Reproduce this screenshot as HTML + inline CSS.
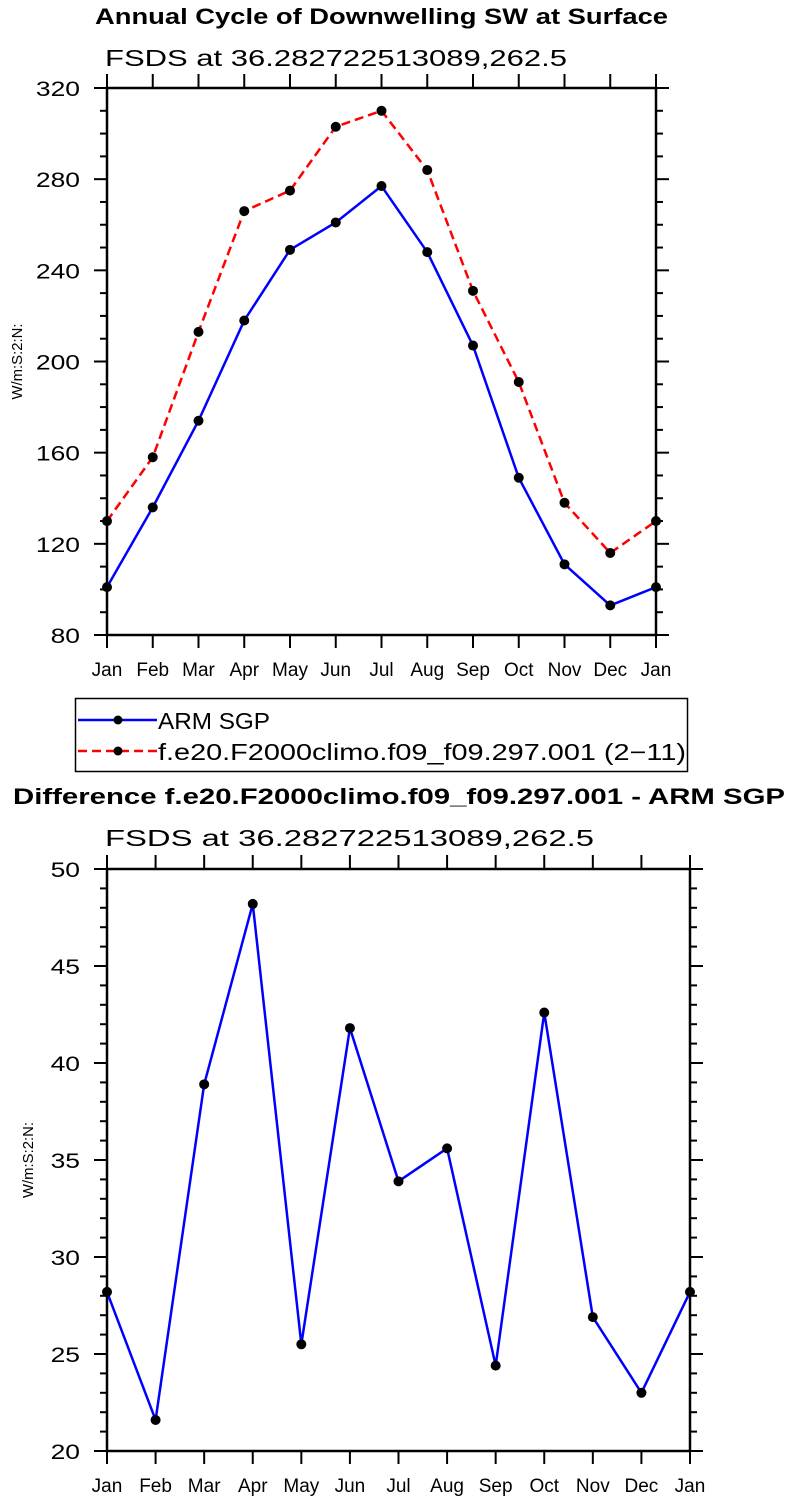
<!DOCTYPE html>
<html><head><meta charset="utf-8">
<style>
html,body{margin:0;padding:0;background:#fff;}
svg{display:block;font-family:"Liberation Sans",sans-serif;}
</style></head>
<body>
<svg id="svg" width="787" height="1506" viewBox="0 0 787 1506" xmlns="http://www.w3.org/2000/svg">
<text x="95" y="24" textLength="573" lengthAdjust="spacingAndGlyphs" font-size="22" font-weight="bold">Annual Cycle of Downwelling SW at Surface</text>
<text x="105" y="66" textLength="462" lengthAdjust="spacingAndGlyphs" font-size="23">FSDS at 36.282722513089,262.5</text>
<text x="13" y="804" textLength="772" lengthAdjust="spacingAndGlyphs" font-size="22" font-weight="bold">Difference f.e20.F2000climo.f09_f09.297.001 - ARM SGP</text>
<text x="105" y="846" textLength="489" lengthAdjust="spacingAndGlyphs" font-size="23">FSDS at 36.282722513089,262.5</text>
<g>
<rect x="75.5" y="698.5" width="612" height="73" fill="none" stroke="#000" stroke-width="1.5"/>
<g>
<line x1="78" y1="720" x2="157" y2="720" stroke="#0000ff" stroke-width="2.5"/>
<circle cx="118" cy="720" r="4.5"/>
<text x="158" y="729" textLength="112" lengthAdjust="spacingAndGlyphs" font-size="23">ARM SGP</text></g>
<g>
<line x1="78" y1="751" x2="157" y2="751" stroke="#ff0000" stroke-width="2.5" stroke-dasharray="9,5"/>
<circle cx="118" cy="751" r="4.5"/>
<text x="158" y="760" textLength="528" lengthAdjust="spacingAndGlyphs" font-size="23">f.e20.F2000climo.f09_f09.297.001 (2−11)</text></g>
</g>
<g id="top"></g>
<g id="bot"></g>
</svg>
<script>
const months = ["Jan","Feb","Mar","Apr","May","Jun","Jul","Aug","Sep","Oct","Nov","Dec","Jan"];
const armValues = [101,136,174,218,249,261,277,248,207,149,111,93,101];
const modelValues = [130,158,213,266,275,303,310,284,231,191,138,116,130];
const diffValues = [28.2,21.6,38.9,48.2,25.5,41.8,33.9,35.6,24.4,42.6,26.9,23.0,28.2];
const topTicks = [80,120,160,200,240,280,320];
const botTicks = [20,25,30,35,40,45,50];
const NS="http://www.w3.org/2000/svg";
function mk(parent,tag,attrs){const e=document.createElementNS(NS,tag);for(const k in attrs)e.setAttribute(k,attrs[k]);parent.appendChild(e);return e;}
function chart(g,L,R,T,B,ymin,ymax,major,minorStep,series,prefix){
  const xs=i=>L+(R-L)*i/(months.length-1);
  const ys=v=>B-(B-T)*(v-ymin)/(ymax-ymin);
  const ax=mk(g,'g',{});
  
  
  mk(ax,'rect',{x:L,y:T,width:R-L,height:B-T,fill:'none',stroke:'#000','stroke-width':2.5});
  for(let v=ymin;v<=ymax+1e-9;v+=minorStep){
    const y=ys(v);const isMaj=major.some(m=>Math.abs(m-v)<1e-6);
    const len=isMaj?13:7;
    mk(ax,'line',{x1:L-len,y1:y,x2:L,y2:y,stroke:'#000','stroke-width':2});
    mk(ax,'line',{x1:R,y1:y,x2:R+len,y2:y,stroke:'#000','stroke-width':2});
  }
  major.forEach(v=>{
    const s=String(v);
    const t=mk(ax,'text',{x:L-27-s.length*14.7,y:ys(v)+8,'font-size':21,textLength:s.length*14.7,lengthAdjust:'spacingAndGlyphs'});
    t.textContent=s;
    
    
  });
  months.forEach((m,i)=>{
    const x=xs(i);
    mk(ax,'line',{x1:x,y1:B,x2:x,y2:B+13,stroke:'#000','stroke-width':2});
    mk(ax,'line',{x1:x,y1:T-14,x2:x,y2:T,stroke:'#000','stroke-width':2});
    const t=mk(ax,'text',{x:x,y:B+41,'text-anchor':'middle','font-size':19});
    t.textContent=m;
    
    
  });
  const yt=mk(ax,'text',{x:0,y:0,'text-anchor':'middle','font-size':15,textLength:76,lengthAdjust:'spacingAndGlyphs',transform:`translate(${prefix==='top'?22:33},${(T+B)/2}) rotate(-90)`});
  yt.textContent='W/m:S:2:N:';
  
  
  series.forEach(s=>{
    const sg=mk(g,'g',{});
    
    
    const pts=s.vals.map((v,i)=>xs(i)+','+ys(v)).join(' ');
    const a={points:pts,fill:'none',stroke:s.color,'stroke-width':2.5};
    if(s.dash)a['stroke-dasharray']='9,5';
    mk(sg,'polyline',a);
    s.vals.forEach((v,i)=>{
      const c=mk(sg,'circle',{cx:xs(i),cy:ys(v),r:5});
      
      
    });
  });
}
chart(document.getElementById('top'),107,656,88,635,80,320,topTicks,10,
  [{name:'arm-sgp-series',vals:armValues,color:'#0000ff'},{name:'model-series',vals:modelValues,color:'#ff0000',dash:true}],'top');
chart(document.getElementById('bot'),107,690,869,1451,20,50,botTicks,1,
  [{name:'difference-series',vals:diffValues,color:'#0000ff'}],'bottom');
</script>
</body></html>
